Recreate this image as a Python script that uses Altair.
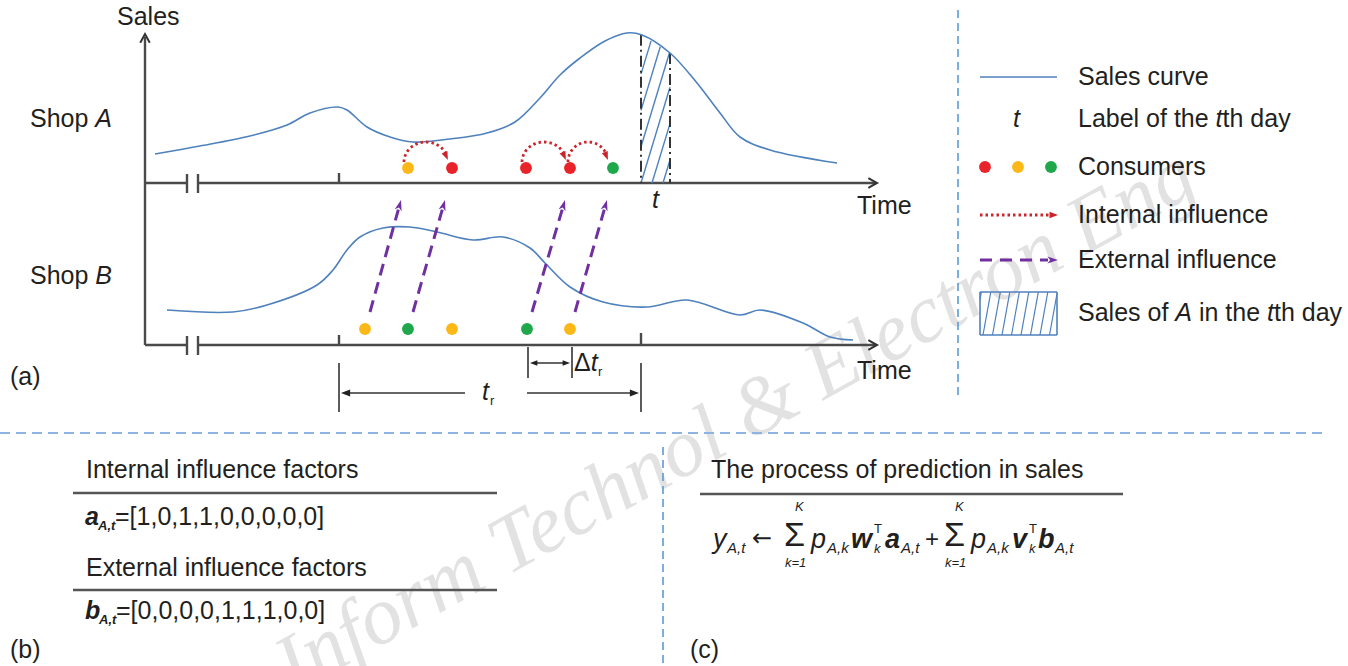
import numpy as np
import pandas as pd
import altair as alt

W, H = 1348, 666
XS = alt.Scale(domain=[0, W], nice=False, zero=False)
YS = alt.Scale(domain=[0, H], nice=False, zero=False, reverse=True)

INK = "#231f20"
AXIS = "#4a4a4a"
BLUE = "#4f81bd"
SEP = "#5b9bd5"
ARC_RED = "#c9252b"
PURPLE = "#7030a0"
COLORS = {"red": "#e8242a", "yellow": "#fbb817", "green": "#1ea84b"}

# ------------------------------------------------------------------ data
# Shop A sales curve: time position, sales level (drawing units, y grows downward)
curve_a_t = [155, 200, 250, 287, 310, 338, 347, 367, 390, 413, 450, 487, 515, 540,
             560, 580, 605, 627, 642, 670, 697, 720, 740, 770, 837]
curve_a_s = [154, 146, 136, 125, 113, 107, 110, 127, 137, 142, 139, 133, 122, 98,
             75, 58, 41, 33, 35, 53, 83, 113, 137, 150, 163]
# Shop B sales curve
curve_b_t = [167, 233, 267, 317, 333, 347, 360, 383, 410, 437, 473, 503, 530, 545,
             570, 603, 647, 687, 740, 760, 803, 830, 853]
curve_b_s = [310, 312, 305, 285, 270, 250, 237, 228, 227, 232, 240, 237, 248, 263,
             287, 302, 307, 300, 315, 310, 323, 337, 340]

# consumers
shop_a_consumer_t = [408, 452, 526, 570, 613]
shop_a_consumer_c = ["yellow", "red", "red", "red", "green"]
shop_b_consumer_t = [365, 408, 452, 527, 570]
shop_b_consumer_c = ["yellow", "green", "yellow", "green", "yellow"]

# internal influence arcs (from -> to, shop A)
internal_from = [404, 522, 568]
internal_to = [448, 566, 608]
# external influence arrows (shop B -> shop A)
external_from = [370, 413, 532, 575]
external_to = [401, 445, 565, 607]

# t-th day window
day_start, day_end = 641, 670
window_start = 339
delta_start, delta_end = 528, 572

a_factors = [1, 0, 1, 1, 0, 0, 0, 0, 0]
b_factors = [0, 0, 0, 0, 1, 1, 1, 0, 0]

# ------------------------------------------------------------------ layout
AX_LEFT, AX_RIGHT = 145, 877
AX_A, AX_B = 183, 345
DOT_A, DOT_B = 168, 329
FS = 25

# ------------------------------------------------------------------ helpers
AW = {' ': 278, ',': 278, '.': 278, '=': 584, '[': 278, ']': 278, '(': 333, ')': 333,
      '+': 584, 'A': 667, 'B': 667, 'C': 722, 'E': 667, 'I': 278, 'K': 667, 'L': 556,
      'S': 667, 'T': 611, 'a': 556, 'b': 556, 'c': 500, 'd': 556, 'e': 556, 'f': 278,
      'g': 556, 'h': 556, 'i': 222, 'k': 500, 'l': 222, 'm': 833, 'n': 556, 'o': 556,
      'p': 556, 'r': 333, 's': 500, 't': 278, 'u': 556, 'v': 500, 'w': 722, 'x': 500,
      'y': 500, 'Δ': 668}
for _d in "0123456789":
    AW[_d] = 556


def tw(s, size):
    return sum(AW.get(c, 556) for c in s) / 1000 * size


texts = []


def put(text, x, y, size=FS, style="n"):
    texts.append(dict(x=x, y=y, text=text, size=size, style=style))


def runs(x, y, parts, size=FS):
    for text, style in parts:
        lead = len(text) - len(text.lstrip(" "))
        core = text.strip(" ")
        if core:
            put(core, x + tw(" " * lead, size), y, size, style)
        x += tw(text, size)


def X():
    return alt.X("x:Q", scale=XS, axis=None)


def Y():
    return alt.Y("y:Q", scale=YS, axis=None)


def segs(rows, color, width, dash=None, cap="butt", opacity=1):
    df = pd.DataFrame(rows, columns=["x", "y", "x2", "y2"])
    props = dict(color=color, strokeWidth=width, strokeCap=cap, opacity=opacity)
    if dash is not None:
        props["strokeDash"] = dash
    return alt.Chart(df).mark_rule(**props).encode(x=X(), y=Y(), x2="x2:Q", y2="y2:Q")


def polyline(xs, ys, ids, color, width, dash=None, interp="linear"):
    df = pd.DataFrame({"x": xs, "y": ys, "id": ids, "o": list(range(len(xs)))})
    props = dict(color=color, strokeWidth=width, interpolate=interp)
    if dash is not None:
        props["strokeDash"] = dash
    return alt.Chart(df).mark_line(**props).encode(x=X(), y=Y(), detail="id:N", order="o:Q")


def heads(rows, shape, size, color, filled=True, sw=1.0):
    df = pd.DataFrame(rows, columns=["x", "y", "ang"])
    return alt.Chart(df).mark_point(shape=shape, size=size, filled=filled, color=color,
                                    opacity=1, strokeWidth=sw).encode(
        x=X(), y=Y(), angle=alt.Angle("ang:Q", scale=None))


def dots(xs, ys, cs, size=140):
    df = pd.DataFrame({"x": xs, "y": ys, "c": [COLORS[c] for c in cs]})
    return alt.Chart(df).mark_circle(size=size, opacity=1).encode(
        x=X(), y=Y(), color=alt.Color("c:N", scale=None))


def hatch(x0, x1, top_fn, ybot, slope, bottoms):
    out = []
    ys = np.linspace(0, ybot, 3000)
    for c in bottoms:
        xs = c + (ybot - ys) / slope
        m = (xs >= x0) & (xs <= x1) & (ys >= top_fn(xs)) & (ys <= ybot)
        idx = np.where(m)[0]
        if len(idx) >= 2:
            out.append((xs[idx[0]], ys[idx[0]], xs[idx[-1]], ys[idx[-1]]))
    return out


TRI = "M0,0L0.45,1.2L-0.45,1.2Z"
BARB = "M0,0L0.5,1.5L0,1.1L-0.5,1.5Z"
CHEV = "M-1,-0.55L0,0L-1,0.55"

layers = []

# ------------------------------------------------------------------ watermark
wm = pd.DataFrame({"x": [294], "y": [694], "text": ["Inform Technol & Electron Eng"]})
layers.append(alt.Chart(wm).mark_text(align="left", baseline="alphabetic", angle=331,
                                      font="Liberation Serif", fontStyle="italic",
                                      fontSize=82, color="#e2e2e2").encode(
    x=X(), y=Y(), text="text:N"))

# ------------------------------------------------------------------ separators
layers.append(segs([(958, 10, 958, 400), (663, 447, 663, 666)], SEP, 1.6, dash=[8, 5]))
layers.append(segs([(0, 433, 1322, 433)], "#8db4e2", 2, dash=[10, 6]))

# ------------------------------------------------------------------ axes
axis_rows = [
    (AX_LEFT, 37, AX_LEFT, AX_B),
    (AX_LEFT, AX_A, 187, AX_A), (198, AX_A, AX_RIGHT - 1, AX_A),
    (AX_LEFT, AX_B, 187, AX_B), (198, AX_B, AX_RIGHT - 1, AX_B),
    (187, AX_A - 9, 187, AX_A + 10), (198, AX_A - 9, 198, AX_A + 10),
    (187, AX_B - 9, 187, AX_B + 10), (198, AX_B - 9, 198, AX_B + 10),
    (window_start, AX_A - 10, window_start, AX_A),
    (window_start, AX_B - 10, window_start, AX_B),
    (day_start, AX_B - 12, day_start, AX_B),
]
layers.append(segs(axis_rows, AXIS, 2.4))
layers.append(heads([(AX_RIGHT, AX_A, 0), (AX_RIGHT, AX_B, 0), (AX_LEFT, 34, 270)],
                    CHEV, 300, "#333333", filled=False, sw=2))

# ------------------------------------------------------------------ hatch + window lines
top_a = lambda xs: np.interp(xs, curve_a_t, curve_a_s)
main_hatch = hatch(day_start, day_end, top_a, AX_A, 3.3,
                   [day_start + 11 * k for k in range(-16, 3)])
layers.append(segs(main_hatch, BLUE, 1.4))
layers.append(segs([(day_start, top_a(day_start), day_start, AX_A),
                    (day_end, top_a(day_end), day_end, AX_A)],
                   "#333333", 2, dash=[11, 4, 2, 4]))

# ------------------------------------------------------------------ curves
layers.append(polyline(curve_a_t + curve_b_t, curve_a_s + curve_b_s,
                       ["A"] * len(curve_a_t) + ["B"] * len(curve_b_t),
                       BLUE, 1.6, interp="catmull-rom"))

# ------------------------------------------------------------------ internal influence arcs
ax_, ay_, aid_, ahead = [], [], [], []
for i, (xs_, xe_) in enumerate(zip(internal_from, internal_to)):
    cx, rx, ry, base = (xs_ + xe_) / 2, (xe_ - xs_) / 2, 20, 162
    t = np.linspace(np.pi, 0.45, 40)
    ax_ += list(cx + rx * np.cos(t))
    ay_ += list(base - ry * np.sin(t))
    aid_ += [i] * len(t)
    tip = (cx + rx * np.cos(0.1), base - ry * np.sin(0.1))
    back = (cx + rx * np.cos(0.65), base - ry * np.sin(0.65))
    ang = np.degrees(np.arctan2(tip[0] - back[0], -(tip[1] - back[1]))) % 360
    ahead.append((tip[0], tip[1], ang))
layers.append(polyline(ax_, ay_, aid_, ARC_RED, 2.8, dash=[2.5, 3]))
layers.append(heads(ahead, TRI, 200, ARC_RED))

# ------------------------------------------------------------------ external influence arrows
ext_rows, ext_heads = [], []
for x0, x1 in zip(external_from, external_to):
    y0, y1 = 312, 200
    L = np.hypot(x1 - x0, y1 - y0)
    ux, uy = (x1 - x0) / L, (y1 - y0) / L
    ext_rows.append((x0, y0, x1 - ux * 10, y1 - uy * 10))
    ext_heads.append((x1, y1, np.degrees(np.arctan2(ux, -uy)) % 360))
layers.append(segs(ext_rows, PURPLE, 3, dash=[12, 7]))
layers.append(heads(ext_heads, BARB, 200, PURPLE))

# ------------------------------------------------------------------ consumers
layers.append(dots(shop_a_consumer_t + shop_b_consumer_t,
                   [DOT_A] * 5 + [DOT_B] * 5,
                   shop_a_consumer_c + shop_b_consumer_c))

# ------------------------------------------------------------------ interval annotation
iv_rows = [
    (window_start, 363, window_start, 412), (day_start, 363, day_start, 412),
    (window_start + 5, 393, 465, 393), (527, 393, day_start - 6, 393),
    (delta_start, AX_B + 2, delta_start, 378), (delta_end, AX_B + 2, delta_end, 378),
    (delta_start + 5, 363, delta_end - 5, 363),
]
layers.append(segs(iv_rows, "#333333", 1.6))
layers.append(heads([(window_start + 2, 393, 270), (day_start - 2, 393, 90)], TRI, 230, "#222222"))
layers.append(heads([(delta_start + 2, 363, 270), (delta_end - 2, 363, 90)], TRI, 150, "#222222"))

# ------------------------------------------------------------------ legend graphics
LX0, LX1 = 980, 1057
layers.append(segs([(LX0, 77, LX1, 77)], BLUE, 1.6))
layers.append(dots([985, 1018, 1051], [167] * 3, ["red", "yellow", "green"]))
layers.append(polyline([LX0, 1049], [215, 215], [0, 0], ARC_RED, 2.8, dash=[2.5, 3]))
layers.append(heads([(1058, 215, 90)], TRI, 200, ARC_RED))
layers.append(segs([(LX0, 260, 1048, 260)], PURPLE, 3, dash=[12, 8]))
layers.append(heads([(1058, 260, 90)], BARB, 200, PURPLE))
leg_hatch = hatch(LX0, LX1, lambda xs: np.full_like(xs, 292.0), 335, 5.5,
                  [983 + 9.5 * k for k in range(-1, 9)])
layers.append(segs(leg_hatch, BLUE, 1.2))
layers.append(segs([(LX0, 292, LX1, 292), (LX0, 335, LX1, 335),
                    (LX0, 292, LX0, 335), (LX1, 292, LX1, 335)], BLUE, 1.6))

# ------------------------------------------------------------------ bottom rules
layers.append(segs([(73, 493, 497, 493), (73, 590, 497, 590), (700, 494, 1123, 494)],
                   "#555555", 2.6))

# ------------------------------------------------------------------ texts
put("Sales", 117, 17)
runs(30, 119, [("Shop ", "n"), ("A", "i")])
runs(30, 276, [("Shop ", "n"), ("B", "i")])
put("Time", 857, 206)
put("Time", 857, 371)
put("t", 652, 200, style="i")
put("(a)", 10, 377)
put("(b)", 10, 650)
put("(c)", 690, 650)
# interval labels
put("t", 482, 392, style="i")
put("r", 490, 401, size=13)
runs(574, 363, [("Δ", "n"), ("t", "i")])
put("r", 598, 372, size=13)
# legend
LT = 1078
runs(LT, 77, [("Sales curve", "n")])
put("t", 1013, 119, style="i")
runs(LT, 119, [("Label of the ", "n"), ("t", "i"), ("th day", "n")])
runs(LT, 167, [("Consumers", "n")])
runs(LT, 215, [("Internal influence", "n")])
runs(LT, 260, [("External influence", "n")])
runs(LT, 313, [("Sales of ", "n"), ("A", "i"), (" in the ", "n"), ("t", "i"), ("th day", "n")])
# panel (b)
put("Internal influence factors", 86, 470)
put("a", 85, 517, style="bi")
put("A,t", 98, 526, size=13, style="bi")
put("=[" + ",".join(str(v) for v in a_factors) + "]", 115, 517)
put("External influence factors", 86, 568)
put("b", 85, 611, style="bi")
put("A,t", 99, 620, size=13, style="bi")
put("=[" + ",".join(str(v) for v in b_factors) + "]", 116, 611)
# panel (c)
put("The process of prediction in sales", 711, 470)
FY = 540
SY = FY + 8
formula = [
    ("y", "i", 713, FY, 27), ("A,t", "i", 727, SY, 15),
    ("←", "arrow", 752, FY - 1, 24),
    ("Σ", "n", 784, FY - 4, 34), ("K", "i", 795, 507, 13), ("k=1", "i", 785, 563, 13),
    ("p", "i", 811, FY, 27), ("A,k", "i", 827, SY, 15),
    ("w", "bi", 851, FY, 27), ("T", "n", 874, FY - 11, 13), ("k", "i", 874, FY + 9, 13),
    ("a", "bi", 885, FY, 27), ("A,t", "i", 901, SY, 15),
    ("+", "n", 925, FY, 24),
    ("Σ", "n", 944, FY - 4, 34), ("K", "i", 955, 507, 13), ("k=1", "i", 945, 563, 13),
    ("p", "i", 971, FY, 27), ("A,k", "i", 987, SY, 15),
    ("v", "bi", 1012, FY, 27), ("T", "n", 1029, FY - 11, 13), ("k", "i", 1029, FY + 9, 13),
    ("b", "bi", 1038, FY, 27), ("A,t", "i", 1055, SY, 15),
]
for txt, st, x, y, s in formula:
    put(txt, x, y, s, st)

tdf = pd.DataFrame(texts)
STY = {"n": ("normal", "normal", "Liberation Sans"),
       "i": ("italic", "normal", "Liberation Sans"),
       "bi": ("italic", "bold", "Liberation Sans"),
       "arrow": ("normal", "normal", "DejaVu Sans")}
for key, (fst, fwt, fnt) in STY.items():
    sub = tdf[tdf["style"] == key]
    if len(sub) == 0:
        continue
    layers.append(alt.Chart(sub).mark_text(align="left", baseline="middle",
                                           font=fnt, fontStyle=fst,
                                           fontWeight=fwt, color=INK).encode(
        x=X(), y=Y(), text="text:N", size=alt.Size("size:Q", scale=None, legend=None)))

chart = alt.layer(*layers).properties(
    width=W, height=H, padding=0, autosize=alt.AutoSizeParams(type="none"),
    background="white",
).configure_view(stroke=None)

chart.save("out.html", embed_options={"renderer": "svg", "actions": False})
